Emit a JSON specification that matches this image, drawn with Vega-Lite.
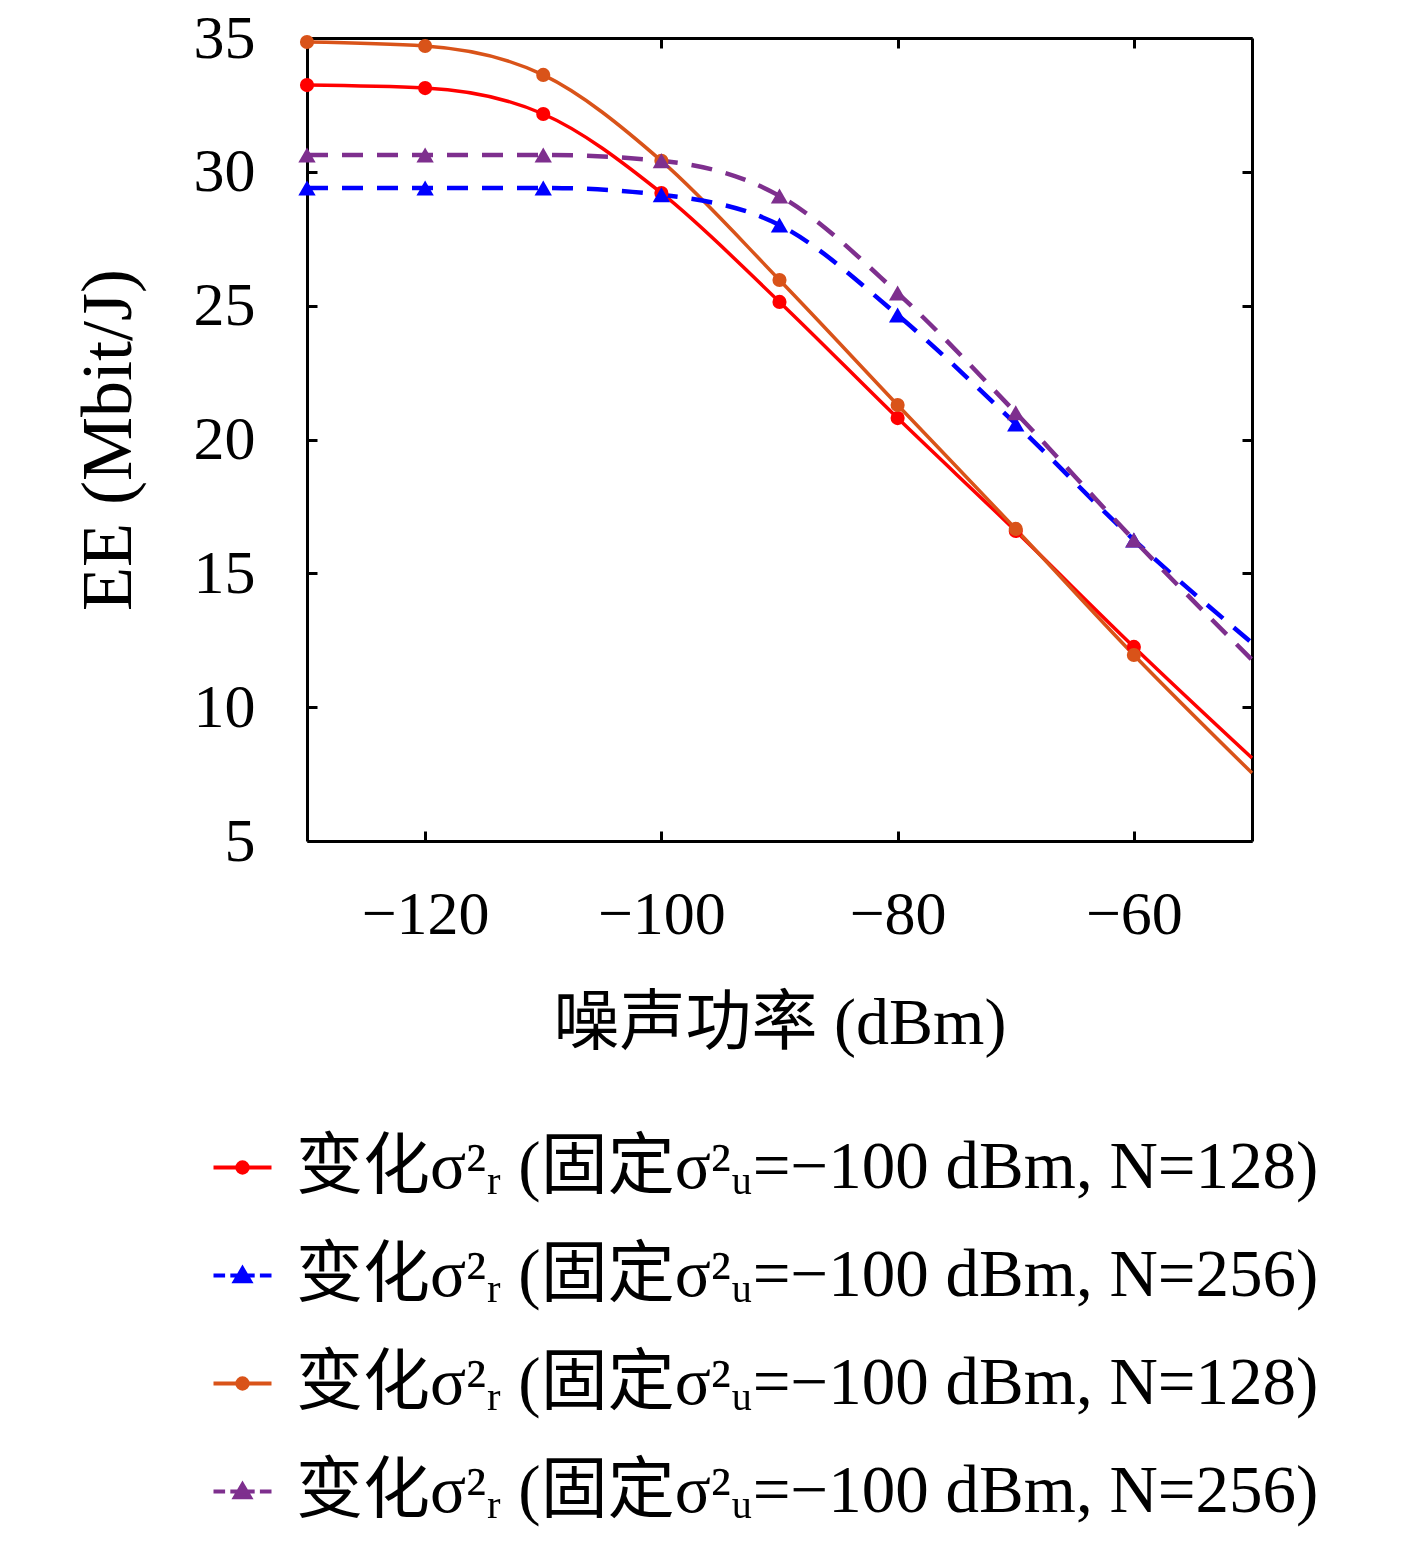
{
  "$schema": "https://vega.github.io/schema/vega-lite/v6.json",
  "width": 945,
  "height": 803,
  "autosize": "none",
  "padding": {"left": 307, "top": 38, "right": 165, "bottom": 701},
  "config": {
    "view": {"stroke": null},
    "font": "Liberation Serif",
    "axis": {
      "grid": false,
      "domainColor": "black",
      "domainWidth": 3,
      "tickColor": "black",
      "tickWidth": 3,
      "tickSize": -10,
      "labelFont": "Liberation Serif",
      "labelFontSize": 62,
      "labelColor": "black",
      "titleFont": "Liberation Serif, Noto Sans CJK SC",
      "titleFontSize": 66,
      "titleFontWeight": "normal",
      "titleColor": "black"
    },
    "legend": {
      "labelFont": "Liberation Serif, DejaVu Serif, Noto Sans CJK SC",
      "labelFontSize": 67,
      "labelColor": "black",
      "labelLimit": 2000
    }
  },
  "datasets": {
    "ee": [
      {"x": -130, "y": 33.24, "s": "a"},
      {"x": -120, "y": 33.13, "s": "a"},
      {"x": -110, "y": 32.16, "s": "a"},
      {"x": -100, "y": 29.21, "s": "a"},
      {"x": -90, "y": 25.14, "s": "a"},
      {"x": -80, "y": 20.8, "s": "a"},
      {"x": -70, "y": 16.58, "s": "a"},
      {"x": -60, "y": 12.25, "s": "a"},
      {"x": -50, "y": 8.1, "s": "a"},
      {"x": -130, "y": 29.4, "s": "b"},
      {"x": -120, "y": 29.4, "s": "b"},
      {"x": -110, "y": 29.4, "s": "b"},
      {"x": -100, "y": 29.14, "s": "b"},
      {"x": -90, "y": 28.01, "s": "b"},
      {"x": -80, "y": 24.65, "s": "b"},
      {"x": -70, "y": 20.58, "s": "b"},
      {"x": -60, "y": 16.25, "s": "b"},
      {"x": -50, "y": 12.4, "s": "b"},
      {"x": -130, "y": 34.85, "s": "c"},
      {"x": -120, "y": 34.7, "s": "c"},
      {"x": -110, "y": 33.62, "s": "c"},
      {"x": -100, "y": 30.41, "s": "c"},
      {"x": -90, "y": 25.96, "s": "c"},
      {"x": -80, "y": 21.29, "s": "c"},
      {"x": -70, "y": 16.66, "s": "c"},
      {"x": -60, "y": 11.95, "s": "c"},
      {"x": -50, "y": 7.54, "s": "c"},
      {"x": -130, "y": 30.63, "s": "d"},
      {"x": -120, "y": 30.63, "s": "d"},
      {"x": -110, "y": 30.63, "s": "d"},
      {"x": -100, "y": 30.41, "s": "d"},
      {"x": -90, "y": 29.1, "s": "d"},
      {"x": -80, "y": 25.47, "s": "d"},
      {"x": -70, "y": 21.0, "s": "d"},
      {"x": -60, "y": 16.25, "s": "d"},
      {"x": -50, "y": 11.77, "s": "d"}
    ]
  },
  "data": {"name": "ee"},
  "layer": [
    {
      "transform": [{"filter": "datum.s == 'a' || datum.s == 'c'"}],
      "mark": {"type": "line", "interpolate": "monotone", "strokeWidth": 3.5},
      "encoding": {
        "x": {"field": "x", "type": "quantitative", "scale": {"domain": [-130, -50], "nice": false},
          "axis": {"orient": "bottom", "values": [-120, -100, -80, -60], "title": "噪声功率 (dBm)", "labelPadding": 53, "titlePadding": 46}},
        "y": {"field": "y", "type": "quantitative", "scale": {"domain": [5, 35], "nice": false},
          "axis": {"orient": "left", "values": [5, 10, 15, 20, 25, 30, 35], "title": "EE (Mbit/J)", "titleFontSize": 72, "labelPadding": 62, "titlePadding": 48}},
        "color": {"field": "s", "type": "nominal"}
      }
    },
    {
      "transform": [{"filter": "datum.s == 'b' || datum.s == 'd'"}],
      "mark": {"type": "line", "interpolate": "monotone", "strokeWidth": 4.5, "strokeDash": [21, 14]},
      "encoding": {
        "x": {"field": "x", "type": "quantitative",
          "axis": {"orient": "top", "values": [-120, -100, -80, -60], "labels": false, "title": null}},
        "y": {"field": "y", "type": "quantitative",
          "axis": {"orient": "right", "values": [5, 10, 15, 20, 25, 30, 35], "labels": false, "title": null}},
        "color": {"field": "s", "type": "nominal"}
      }
    },
    {
      "transform": [{"filter": "(datum.s == 'a' || datum.s == 'c') && datum.x < -55"}],
      "mark": {"type": "point", "shape": "circle", "filled": true, "opacity": 1, "size": 200},
      "encoding": {
        "x": {"field": "x", "type": "quantitative", "axis": null},
        "y": {"field": "y", "type": "quantitative", "axis": null},
        "color": {"field": "s", "type": "nominal"}
      }
    },
    {
      "transform": [{"filter": "(datum.s == 'b' || datum.s == 'd') && datum.x < -55"}],
      "mark": {"type": "point", "shape": "triangle-up", "filled": true, "opacity": 1, "size": 300},
      "encoding": {
        "x": {"field": "x", "type": "quantitative", "axis": null},
        "y": {"field": "y", "type": "quantitative", "axis": null},
        "color": {"field": "s", "type": "nominal"}
      }
    },
    {
      "transform": [{"filter": "false"}],
      "mark": {"type": "point", "filled": true, "opacity": 1},
      "encoding": {
        "x": {"field": "x", "type": "quantitative", "axis": null},
        "y": {"field": "y", "type": "quantitative", "axis": null},
        "color": {"field": "s", "type": "nominal",
          "scale": {"domain": ["a", "b", "c", "d"], "range": ["#FF0000", "#0000FF", "#D95319", "#7E2F8E"]},
          "legend": {
            "orient": "none", "legendX": -98, "legendY": 1096, "title": null, "padding": 0,
            "symbolSize": 3364, "symbolStrokeWidth": 4, "labelOffset": 20, "rowPadding": 40,
            "labelExpr": "datum.value == 'a' || datum.value == 'c' ? '变化σ²ᵣ (固定σ²ᵤ=−100 dBm, N=128)' : '变化σ²ᵣ (固定σ²ᵤ=−100 dBm, N=256)'",
            "encode": {"symbols": {"update": {
              "fill": {"scale": "color", "field": "value"},
              "stroke": {"scale": "color", "field": "value"},
              "strokeWidth": {"value": 4},
              "opacity": {"value": 1}
            }}}
          }},
        "shape": {"field": "s", "type": "nominal",
          "scale": {"domain": ["a", "b", "c", "d"], "range": [
            "M-1,0H1M-0.18,0A0.18,0.18 0 1,0 0.18,0A0.18,0.18 0 1,0 -0.18,0Z",
            "M-1,0H-0.6M-0.42,0H0.42M0.6,0H1M0,-0.24L0.26,0.2L-0.26,0.2Z",
            "M-1,0H1M-0.18,0A0.18,0.18 0 1,0 0.18,0A0.18,0.18 0 1,0 -0.18,0Z",
            "M-1,0H-0.6M-0.42,0H0.42M0.6,0H1M0,-0.24L0.26,0.2L-0.26,0.2Z"
          ]}}
      }
    }
  ],
  "resolve": {"axis": {"x": "independent", "y": "independent"}}
}
